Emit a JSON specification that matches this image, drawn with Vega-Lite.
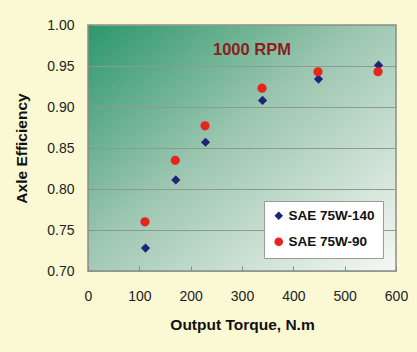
{
  "$schema": "https://vega.github.io/schema/vega-lite/v6.json",
  "autosize": "none",
  "width": 308,
  "height": 246,
  "padding": {"left": 88, "top": 25, "right": 21, "bottom": 81},
  "background": "#FBF9D4",
  "title": {
    "text": "1000 RPM",
    "anchor": "middle",
    "frame": "group",
    "offset": -40,
    "dx": 10,
    "font": "Liberation Sans",
    "fontSize": 16.5,
    "fontWeight": "bold",
    "color": "#8B1E1E"
  },
  "data": {
    "values": [
      {"torque": 112, "efficiency": 0.728, "oil": "SAE 75W-140"},
      {"torque": 171, "efficiency": 0.811, "oil": "SAE 75W-140"},
      {"torque": 229, "efficiency": 0.857, "oil": "SAE 75W-140"},
      {"torque": 340, "efficiency": 0.908, "oil": "SAE 75W-140"},
      {"torque": 449, "efficiency": 0.934, "oil": "SAE 75W-140"},
      {"torque": 566, "efficiency": 0.951, "oil": "SAE 75W-140"},
      {"torque": 111, "efficiency": 0.760, "oil": "SAE 75W-90"},
      {"torque": 170, "efficiency": 0.835, "oil": "SAE 75W-90"},
      {"torque": 228, "efficiency": 0.877, "oil": "SAE 75W-90"},
      {"torque": 339, "efficiency": 0.923, "oil": "SAE 75W-90"},
      {"torque": 448, "efficiency": 0.943, "oil": "SAE 75W-90"},
      {"torque": 565, "efficiency": 0.943, "oil": "SAE 75W-90"}
    ]
  },
  "mark": {"type": "point", "filled": true, "opacity": 1, "size": 85},
  "encoding": {
    "x": {
      "field": "torque",
      "type": "quantitative",
      "scale": {"domain": [0, 600], "nice": false},
      "axis": {
        "title": "Output Torque, N.m",
        "values": [0, 100, 200, 300, 400, 500, 600],
        "grid": false,
        "labelFlush": false,
        "tickSize": -5,
        "labelPadding": 23,
        "titlePadding": 14
      }
    },
    "y": {
      "field": "efficiency",
      "type": "quantitative",
      "scale": {"domain": [0.7, 1.0], "nice": false, "zero": false},
      "axis": {
        "title": "Axle Efficiency",
        "values": [0.7, 0.75, 0.8, 0.85, 0.9, 0.95, 1.0],
        "format": ".2f",
        "grid": true,
        "labelFlush": false,
        "tickSize": -5,
        "labelPadding": 19,
        "titlePadding": 17
      }
    },
    "color": {
      "field": "oil",
      "type": "nominal",
      "scale": {"domain": ["SAE 75W-140", "SAE 75W-90"], "range": ["#1F2478", "#E8251D"]},
      "legend": {
        "title": null,
        "orient": "bottom-right",
        "offset": 13
      }
    },
    "shape": {
      "field": "oil",
      "type": "nominal",
      "scale": {"domain": ["SAE 75W-140", "SAE 75W-90"], "range": ["diamond", "circle"]}
    }
  },
  "config": {
    "view": {
      "stroke": "#8C8C8C",
      "strokeWidth": 1.5,
      "fill": {
        "gradient": "linear",
        "x1": 0, "y1": 0, "x2": 1, "y2": 1,
        "stops": [
          {"offset": 0, "color": "#2B976A"},
          {"offset": 0.45, "color": "#9CC6B0"},
          {"offset": 1, "color": "#F6F8F4"}
        ]
      }
    },
    "axis": {
      "labelFont": "Liberation Sans",
      "labelFontSize": 14,
      "labelColor": "#222222",
      "titleFont": "Liberation Sans",
      "titleFontSize": 15.5,
      "titleFontWeight": "bold",
      "titleColor": "#111111",
      "domain": false,
      "tickColor": "#8C8C8C",
      "gridColor": "#8C9A90",
      "gridWidth": 1,
      "gridOpacity": 1
    },
    "legend": {
      "labelFont": "Liberation Sans",
      "labelFontSize": 13.5,
      "labelFontWeight": "bold",
      "labelColor": "#111111",
      "fillColor": "#FFFFFF",
      "strokeColor": "#9A9A9A",
      "padding": 8,
      "rowPadding": 10,
      "symbolSize": 75,
      "symbolOpacity": 1,
      "labelOffset": 3,
      "cornerRadius": 0
    }
  }
}
